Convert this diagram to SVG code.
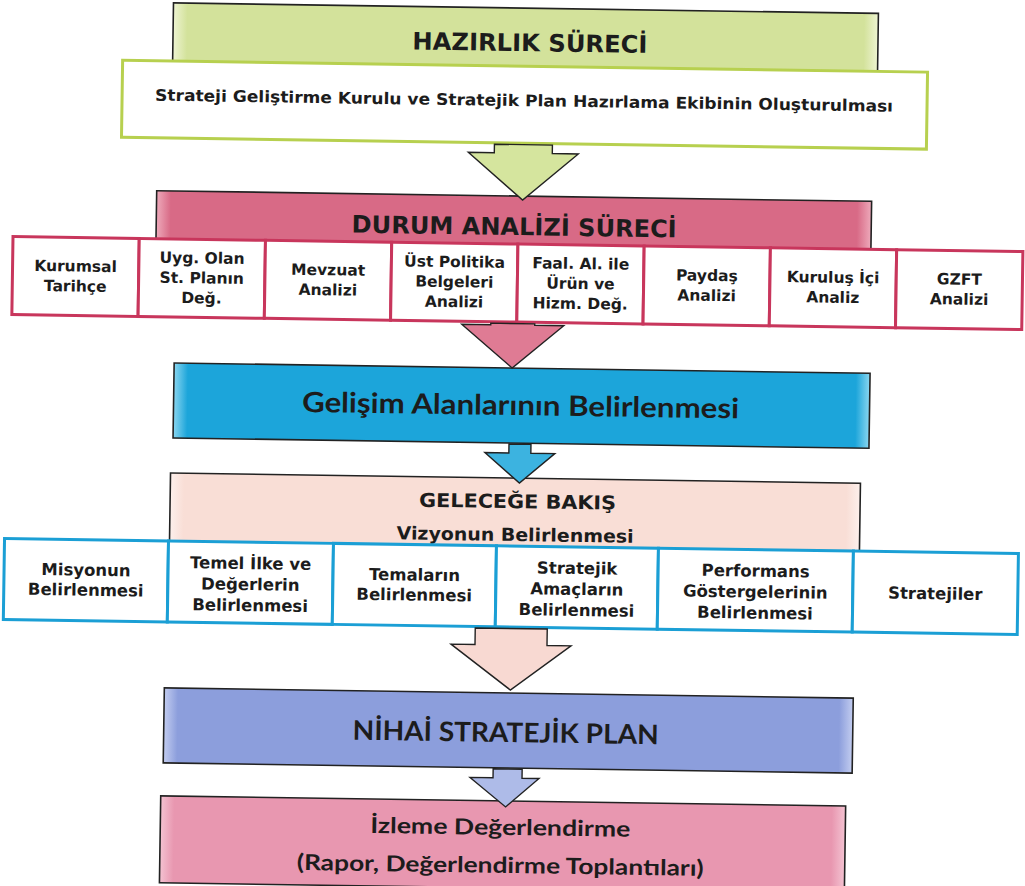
<svg xmlns="http://www.w3.org/2000/svg" width="1025" height="886" viewBox="0 0 1025 886">
<defs>
<linearGradient id="gGreen" x1="0" y1="0" x2="1" y2="0">
<stop offset="0" stop-color="#eef4d2"/><stop offset="0.02" stop-color="#d3e29b"/><stop offset="0.98" stop-color="#d3e29b"/><stop offset="1" stop-color="#eef4d2"/>
</linearGradient>
<linearGradient id="gPink" x1="0" y1="0" x2="1" y2="0">
<stop offset="0" stop-color="#eeaabb"/><stop offset="0.02" stop-color="#d86a86"/><stop offset="0.98" stop-color="#d86a86"/><stop offset="1" stop-color="#eeaabb"/>
</linearGradient>
<linearGradient id="gBlue" x1="0" y1="0" x2="1" y2="0">
<stop offset="0" stop-color="#8ad6f0"/><stop offset="0.02" stop-color="#1ca5da"/><stop offset="0.98" stop-color="#1ca5da"/><stop offset="1" stop-color="#8ad6f0"/>
</linearGradient>
<linearGradient id="gPeach" x1="0" y1="0" x2="1" y2="0">
<stop offset="0" stop-color="#fdf0ec"/><stop offset="0.02" stop-color="#f9ded6"/><stop offset="0.98" stop-color="#f9ded6"/><stop offset="1" stop-color="#fdf0ec"/>
</linearGradient>
<linearGradient id="gLav" x1="0" y1="0" x2="1" y2="0">
<stop offset="0" stop-color="#c3cdf0"/><stop offset="0.02" stop-color="#8c9edc"/><stop offset="0.98" stop-color="#8c9edc"/><stop offset="1" stop-color="#c3cdf0"/>
</linearGradient>
<linearGradient id="gRose" x1="0" y1="0" x2="1" y2="0">
<stop offset="0" stop-color="#f4c3d2"/><stop offset="0.02" stop-color="#e897b0"/><stop offset="0.98" stop-color="#e897b0"/><stop offset="1" stop-color="#f4c3d2"/>
</linearGradient>
</defs>
<style>
.frame{stroke:#222;stroke-width:1.6}
.arrow{stroke:#222;stroke-width:1.4;stroke-linejoin:miter}
.r1{fill:#fff;stroke:#c8365c;stroke-width:3}
.r2{fill:#fff;stroke:#1b9fd5;stroke-width:3}
.t{font-family:"DejaVu Sans","Open Sans",sans-serif;font-weight:bold;fill:#1c1c1c;text-anchor:middle}
.s1{font-size:15.5px}
.s2{font-size:16.5px}
.c{font-family:Lato,"Open Sans",sans-serif;font-weight:bold;fill:#1c1c1c;text-anchor:middle}
</style>
<rect width="1025" height="886" fill="#fff"/>
<g transform="rotate(0.85 512 443)">
<g id="hazirlik">
<rect class="frame" x="167" y="8" width="705" height="120" fill="url(#gGreen)"/>
<text class="t" x="524" y="51" font-size="24" textLength="235" lengthAdjust="spacingAndGlyphs">HAZIRLIK SÜRECİ</text>
</g>
<g id="hazirlik-detay">
<rect x="117" y="66" width="805" height="77" fill="#fff" stroke="#b7d04f" stroke-width="3"/>
<text class="t" x="519" y="106" font-size="16" textLength="738" lengthAdjust="spacingAndGlyphs">Strateji Geliştirme Kurulu ve Stratejik Plan Hazırlama Ekibinin Oluşturulması</text>
</g>
<g id="durum">
<rect class="frame" x="153" y="196" width="715" height="60" fill="url(#gPink)"/>
<text class="t" x="511" y="235" font-size="24" textLength="325" lengthAdjust="spacingAndGlyphs">DURUM ANALİZİ SÜRECİ</text>
</g>
<g id="d1"><rect class="r1" x="10" y="244" width="126.25" height="78"/><text class="t s1" x="73" y="278">Kurumsal</text><text class="t s1" x="73" y="298">Tarihçe</text></g>
<g id="d2"><rect class="r1" x="136.25" y="244" width="126.25" height="78"/><text class="t s1" x="199.4" y="268">Uyg. Olan</text><text class="t s1" x="199.4" y="288">St. Planın</text><text class="t s1" x="199.4" y="308">Değ.</text></g>
<g id="d3"><rect class="r1" x="262.5" y="244" width="126.25" height="78"/><text class="t s1" x="325.6" y="278">Mevzuat</text><text class="t s1" x="325.6" y="298">Analizi</text></g>
<g id="d4"><rect class="r1" x="388.75" y="244" width="126.25" height="78"/><text class="t s1" x="451.9" y="268">Üst Politika</text><text class="t s1" x="451.9" y="288">Belgeleri</text><text class="t s1" x="451.9" y="308">Analizi</text></g>
<g id="d5"><rect class="r1" x="515" y="244" width="126.25" height="78"/><text class="t s1" x="578.1" y="268">Faal. Al. ile</text><text class="t s1" x="578.1" y="288">Ürün ve</text><text class="t s1" x="578.1" y="308">Hizm. Değ.</text></g>
<g id="d6"><rect class="r1" x="641.25" y="244" width="126.25" height="78"/><text class="t s1" x="704.4" y="278">Paydaş</text><text class="t s1" x="704.4" y="298">Analizi</text></g>
<g id="d7"><rect class="r1" x="767.5" y="244" width="126.25" height="78"/><text class="t s1" x="830.6" y="278">Kuruluş İçi</text><text class="t s1" x="830.6" y="298">Analiz</text></g>
<g id="d8"><rect class="r1" x="893.75" y="244" width="126.25" height="78"/><text class="t s1" x="956.9" y="278">GZFT</text><text class="t s1" x="956.9" y="298">Analizi</text></g>
<g id="gelisim">
<rect class="frame" x="173" y="368" width="696" height="75" fill="url(#gBlue)"/>
<text class="c" x="520" y="415" font-size="28" textLength="437" lengthAdjust="spacingAndGlyphs">Gelişim Alanlarının Belirlenmesi</text>
</g>
<g id="gelecek">
<rect class="frame" x="171" y="478" width="690" height="80" fill="url(#gPeach)"/>
<text class="t" x="518.5" y="508" font-size="19" textLength="197" lengthAdjust="spacingAndGlyphs">GELECEĞE  BAKIŞ</text>
<text class="t" x="516.5" y="541" font-size="18" textLength="237" lengthAdjust="spacingAndGlyphs">Vizyonun Belirlenmesi</text>
</g>
<g id="g1"><rect class="r2" x="6" y="546" width="164" height="81"/><text class="t s2" x="88" y="582">Misyonun</text><text class="t s2" x="88" y="602">Belirlenmesi</text></g>
<g id="g2"><rect class="r2" x="170" y="546" width="165" height="81"/><text class="t s2" x="252.5" y="573">Temel İlke ve</text><text class="t s2" x="252.5" y="594">Değerlerin</text><text class="t s2" x="252.5" y="615">Belirlenmesi</text></g>
<g id="g3"><rect class="r2" x="335" y="546" width="163" height="81"/><text class="t s2" x="416.5" y="582">Temaların</text><text class="t s2" x="416.5" y="602">Belirlenmesi</text></g>
<g id="g4"><rect class="r2" x="498" y="546" width="162" height="81"/><text class="t s2" x="579" y="573">Stratejik</text><text class="t s2" x="579" y="594">Amaçların</text><text class="t s2" x="579" y="615">Belirlenmesi</text></g>
<g id="g5"><rect class="r2" x="660" y="546" width="195" height="81"/><text class="t s2" x="757.5" y="573">Performans</text><text class="t s2" x="757.5" y="594">Göstergelerinin</text><text class="t s2" x="757.5" y="615">Belirlenmesi</text></g>
<g id="g6"><rect class="r2" x="855" y="546" width="165" height="81"/><text class="t s2" x="937.5" y="593">Stratejiler</text></g>
<g id="nihai">
<rect class="frame" x="168" y="693" width="689" height="75" fill="url(#gLav)"/>
<text class="c" x="510" y="742" font-size="27" textLength="306" lengthAdjust="spacingAndGlyphs">NİHAİ STRATEJİK PLAN</text>
</g>
<g id="izleme">
<rect class="frame" x="166" y="801" width="685" height="87" fill="url(#gRose)"/>
<text class="c" x="506" y="835" font-size="22" textLength="260" lengthAdjust="spacingAndGlyphs">İzleme Değerlendirme</text>
<text class="c" x="506.5" y="873" font-size="22" textLength="407" lengthAdjust="spacingAndGlyphs">(Rapor, Değerlendirme Toplantıları)</text>
</g>
<g id="connectors">
<polygon class="arrow" fill="#d5e59e" points="490,144.5 548,144.5 548,153 574,153 519,200 464,153 490,153"/>
<polygon class="arrow" fill="#df7b94" points="489,323.5 533,323.5 533,325 562,325 511,368 460,325 489,325"/>
<polygon class="arrow" fill="#3cb3e0" points="509,444 531,444 531,453 555,453 520,483 485,453 509,453"/>
<polygon class="arrow" fill="#f8d9d2" points="478,628.5 550,628.5 550,645 574,645 514,690 454,645 478,645"/>
<polygon class="arrow" fill="#aebbe8" points="498,769 527,769 527,778 544,778 511,807 475,778 498,778"/>
</g>
</g>
</svg>
